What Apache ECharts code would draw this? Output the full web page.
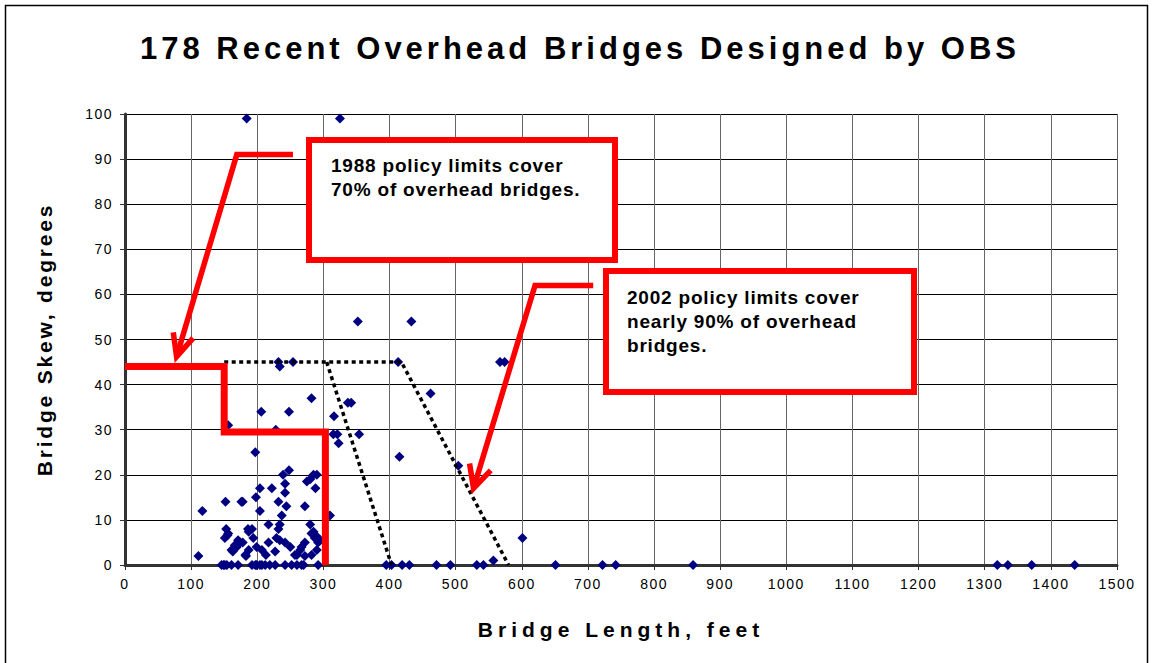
<!DOCTYPE html>
<html>
<head>
<meta charset="utf-8">
<script src="https://cdn.jsdelivr.net/npm/echarts@6/dist/echarts.min.js"></script>
<style>
html, body { margin: 0; padding: 0; background: #fff; }
#chart { width: 1153px; height: 663px; }
</style>
</head>
<body>
<div id="chart"></div>
<script>
// bridge length (ft), skew (deg)
var bridges = [
    [184, 99], [325, 99],
    [352, 54], [433, 54],
    [232, 45], [254, 45], [234, 44], [413, 45], [567, 45], [574, 45],
    [462, 38], [282, 37], [337, 36], [342, 36],
    [316, 33], [206, 34], [248, 34], [156, 31], [228, 30],
    [315, 29], [321, 29], [354, 29], [323, 27], [197, 25],
    [415, 24], [504, 22],
    [239, 20], [248, 21], [275, 18.5], [280, 19], [285, 20], [290, 20],
    [204, 17], [222, 17], [242, 18], [288, 17],
    [198, 15], [242, 16], [178, 14], [152, 14], [176, 14], [232, 14], [244, 13], [272, 13],
    [117, 12], [204, 12], [237, 11], [310, 11],
    [217, 9], [234, 9], [280, 9], [232, 8], [192, 8], [186, 8], [187, 7.4], [285, 7.4],
    [290, 6.3], [295, 5.5], [156, 7], [153, 8], [151, 6], [155, 6.6], [174, 5], [169, 4],
    [163, 3], [183, 2], [111, 2], [194, 6], [217, 5], [229, 6], [234, 5.5], [242, 5],
    [250, 4], [267, 4], [272, 5], [282, 7], [287, 6], [292, 5], [178, 5], [171, 5.5],
    [166, 4.4], [161, 3.3], [187, 3.3], [199, 4], [207, 3.3], [227, 3], [265, 3.3], [290, 3.3],
    [213, 2.2], [182, 2.2], [257, 2.2], [260, 2.2], [272, 2], [282, 2.2],
    [601, 6], [557, 1]
];
var zeroSkewLengths = [146, 149, 151, 154, 161, 171, 192, 197, 199, 204, 207, 212, 219, 227,
    242, 252, 260, 267, 270, 292, 395, 403, 419, 430, 471, 492, 532, 542, 651, 722, 742, 859,
    1319, 1335, 1371, 1436];

// policy limits and arrows, in chart units
var policy1988 = [[0, 44], [150, 44], [150, 29.5], [303, 29.5], [303, 0]];
var policy2002 = [[150, 45], [418, 45], [580, 0]];
var policy2002Inner = [[305, 45], [403, 0]];
var arrow1988 = [[254, 91], [169, 91], [78, 46.2]];
var arrow1988Head = [[73, 51.6], [78, 46.2], [103, 50.3]];
var arrow2002 = [[708, 62], [620, 62], [527, 17]];
var arrow2002Head = [[521, 22.5], [527, 17], [553, 21]];

var titleText = '178 Recent Overhead Bridges Designed by OBS';
var note1988 = ['1988 policy limits cover', '70% of overhead bridges.'];
var note2002 = ['2002 policy limits cover', 'nearly 90% of overhead', 'bridges.'];

var FONT = '"Liberation Sans", Arial, sans-serif';

var points = bridges.concat(zeroSkewLengths.map(function (x) { return [x, 0]; }));

function redLine(data, width) {
    return {
        type: 'line', data: data, symbol: 'none', clip: false, z: 4, silent: true,
        lineStyle: {color: '#ff0000', width: width, cap: 'butt', join: 'miter'}
    };
}
function dotLine(data) {
    return {
        type: 'line', data: data, symbol: 'none', clip: false, z: 3, silent: true,
        lineStyle: {color: '#000', width: 3.5, type: [4, 3.5], cap: 'butt'}
    };
}
function noteText(lines, x, y) {
    return lines.map(function (s, i) {
        return {
            type: 'text', x: x, y: y + i * 24, z: 101,
            style: {text: s, font: 'bold 19px ' + FONT, fill: '#000',
                align: 'left', verticalAlign: 'middle', textAlign: 'left', textVerticalAlign: 'middle'}
        };
    });
}

var chart = echarts.init(document.getElementById('chart'), null, {renderer: 'svg'});

var option = {
    backgroundColor: '#fff',
    animation: false,
    grid: {left: 125, right: 36, top: 114, bottom: 98},
    xAxis: {
        type: 'value', min: 0, max: 1500, interval: 100,
        name: 'Bridge Length, feet', nameLocation: 'middle', nameGap: 54,
        nameTextStyle: {fontFamily: FONT, fontWeight: 'bold', fontSize: 21, color: '#000'},
        axisLine: {show: true, lineStyle: {color: '#333', width: 3}},
        axisTick: {show: true, inside: false, length: 5, lineStyle: {color: '#333'}},
        axisLabel: {fontFamily: FONT, fontSize: 14, color: '#000', margin: 12,
            formatter: function (v) { return String(v); }},
        splitLine: {show: true, lineStyle: {color: '#666', width: 1}}
    },
    yAxis: {
        type: 'value', min: 0, max: 100, interval: 10,
        name: 'Bridge Skew, degrees', nameLocation: 'middle', nameGap: 70,
        nameTextStyle: {fontFamily: FONT, fontWeight: 'bold', fontSize: 21, color: '#000'},
        axisLine: {show: true, lineStyle: {color: '#333', width: 3}},
        axisTick: {show: true, inside: false, length: 5, lineStyle: {color: '#333'}},
        axisLabel: {fontFamily: FONT, fontSize: 14, color: '#000', margin: 12,
            formatter: function (v) { return String(v); }},
        splitLine: {show: true, lineStyle: {color: '#000', width: 1}}
    },
    series: [
        {
            type: 'scatter', data: points, symbol: 'diamond', symbolSize: 10, z: 2,
            itemStyle: {color: '#000080', opacity: 1}
        },
        dotLine(policy2002),
        dotLine(policy2002Inner),
        redLine(policy1988, 7),
        redLine(arrow1988, 5.5),
        redLine(arrow1988Head, 5.5),
        redLine(arrow2002, 5.5),
        redLine(arrow2002Head, 5.5)
    ],
    graphic: [
        {
            type: 'rect', z: 1, silent: true,
            shape: {x: 5.5, y: 5.5, width: 1142, height: 670},
            style: {fill: 'none', stroke: '#000', lineWidth: 1.5}
        },
        {
            type: 'text', x: 580, y: 48, z: 101,
            style: {text: titleText, font: 'bold 31px ' + FONT, fill: '#000',
                align: 'center', verticalAlign: 'middle', textAlign: 'center', textVerticalAlign: 'middle'}
        },
        {
            type: 'rect', z: 100,
            shape: {x: 309, y: 140, width: 306, height: 120},
            style: {fill: '#fff', stroke: '#ff0000', lineWidth: 6}
        },
        {
            type: 'rect', z: 100,
            shape: {x: 606, y: 271, width: 308, height: 121},
            style: {fill: '#fff', stroke: '#ff0000', lineWidth: 6}
        }
    ].concat(noteText(note1988, 331, 165)).concat(noteText(note2002, 627, 297))
};

chart.setOption(option);

// Excel-style wide tracking on the texts
var spacing = {};
spacing[titleText] = '4px';
spacing['Bridge Length, feet'] = '5px';
spacing['Bridge Skew, degrees'] = '2.8px';
note1988.concat(note2002).forEach(function (s) { spacing[s] = '0.8px'; });

function applySpacing() {
    var texts = document.querySelectorAll('#chart text');
    texts.forEach(function (t) {
        var c = t.textContent;
        var s = spacing[c] || (/^\d+$/.test(c) ? '1.5px' : null);
        if (s) t.style.letterSpacing = s;
    });
}
applySpacing();
chart.on('finished', applySpacing);
setTimeout(applySpacing, 0);
</script>
</body>
</html>
